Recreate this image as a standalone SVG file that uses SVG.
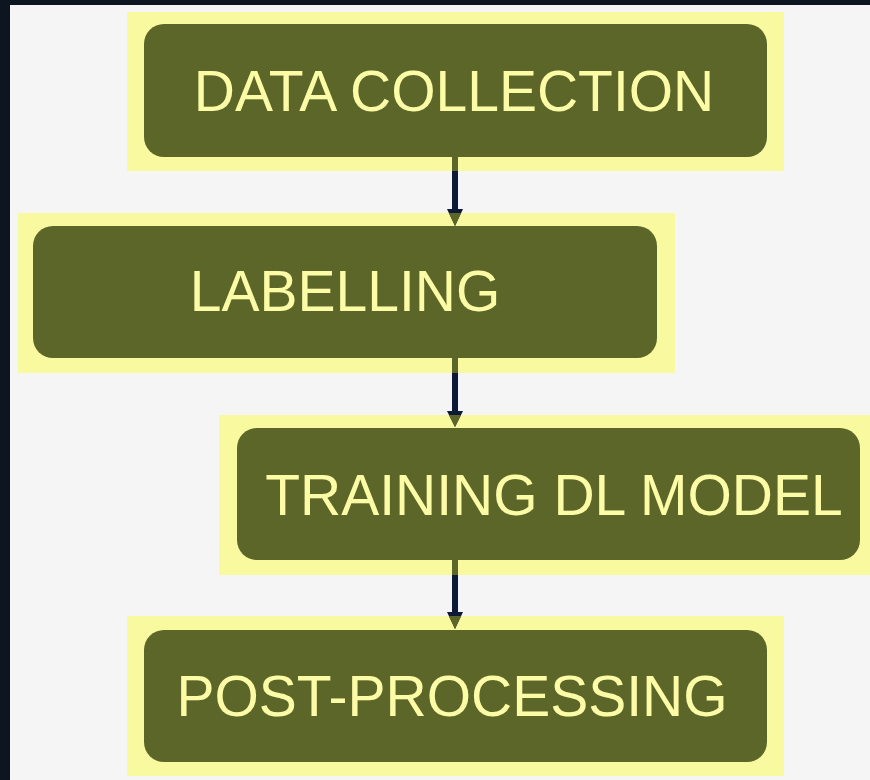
<svg xmlns="http://www.w3.org/2000/svg" xmlns:xlink="http://www.w3.org/1999/xlink" width="870" height="780" viewBox="0 0 870 780">
<style>
.hl{fill:#f9f9a0}
.box{fill:#5c6628}
.lbl{fill:#fdfca6;font-family:"Liberation Sans",Arial,sans-serif;font-size:57px;text-anchor:middle}
.nv{fill:#0c1a38}
.ol{fill:#5c6628}
</style>
<defs>
<clipPath id="hlclip">
<rect x="127" y="12" width="657" height="159"/>
<rect x="18" y="213" width="657" height="160"/>
<rect x="219" y="415" width="651" height="160"/>
<rect x="127" y="616" width="657" height="160"/>
</clipPath>
<path id="a1" d="M452,157 H458 V209 H463 L455,226 L447,209 H452 Z"/>
<path id="a2" d="M452,358 H458 V411 H463 L455,427 L447,411 H452 Z"/>
<path id="a3" d="M452,560 H458 V612 H463 L455,629 L447,612 H452 Z"/>
</defs>
<rect x="0" y="0" width="870" height="780" fill="#0d1520"/>
<rect x="10" y="5" width="860" height="775" fill="#f5f5f5"/>
<g id="node-data-collection">
<rect class="hl" x="127" y="12" width="657" height="159"/>
<rect class="box" x="144" y="24" width="623" height="133" rx="20"/>
<text class="lbl" x="454" y="111">DATA COLLECTION</text>
</g>
<g id="node-labelling">
<rect class="hl" x="18" y="213" width="657" height="160"/>
<rect class="box" x="33" y="226" width="624" height="132" rx="20"/>
<text class="lbl" x="345" y="311">LABELLING</text>
</g>
<g id="node-training">
<rect class="hl" x="219" y="415" width="651" height="160"/>
<rect class="box" x="237" y="428" width="623" height="132" rx="20"/>
<text class="lbl" x="554" y="515">TRAINING DL MODEL</text>
</g>
<g id="node-post-processing">
<rect class="hl" x="127" y="616" width="657" height="160"/>
<rect class="box" x="144" y="630" width="623" height="132" rx="20"/>
<text class="lbl" x="452" y="716">POST-PROCESSING</text>
</g>
<g id="connectors">
<use xlink:href="#a1" class="nv"/>
<use xlink:href="#a2" class="nv"/>
<use xlink:href="#a3" class="nv"/>
<g clip-path="url(#hlclip)">
<use xlink:href="#a1" class="ol"/>
<use xlink:href="#a2" class="ol"/>
<use xlink:href="#a3" class="ol"/>
</g>
</g>
</svg>
